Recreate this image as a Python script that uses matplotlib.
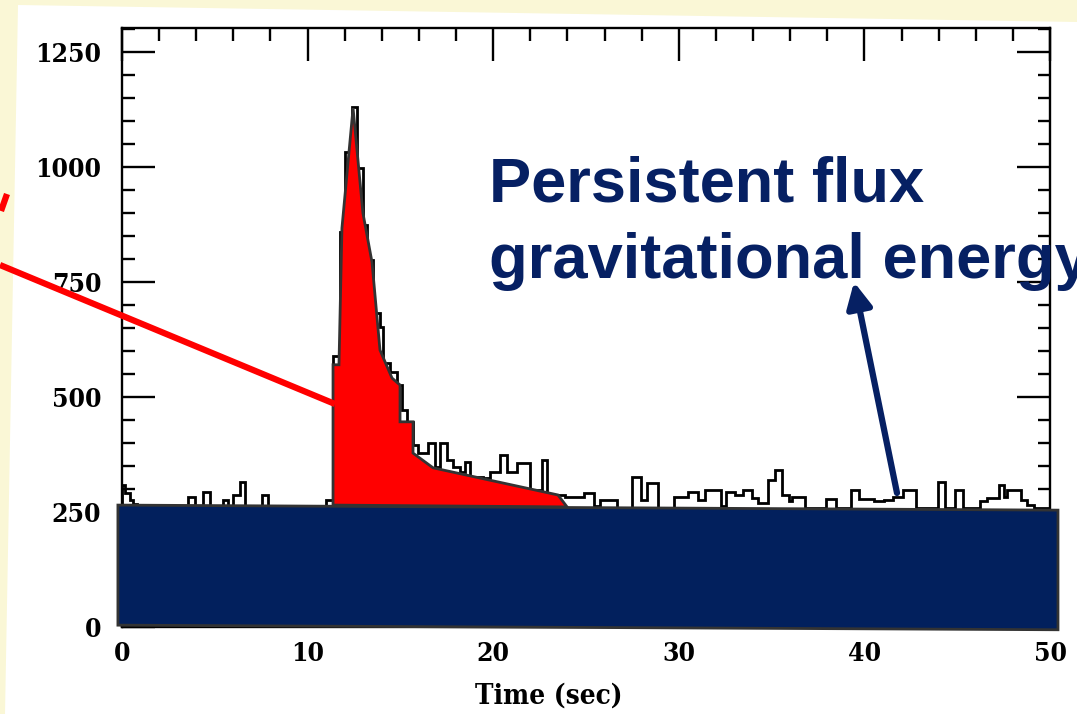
import numpy as np
import matplotlib
matplotlib.use("Agg")
import matplotlib.pyplot as plt
from matplotlib.patches import Polygon, FancyArrowPatch
from matplotlib.lines import Line2D

# ---------------- data ----------------
# light-curve histogram (step edges in seconds, counts per bin)
hist_edges = [0.00, 0.16, 0.43, 0.59, 0.81, 3.56, 3.93, 4.36, 4.74, 5.44, 5.71, 5.98,
              6.36, 6.63, 7.54, 7.87, 10.99, 11.37, 11.75, 12.02, 12.39, 12.66, 12.98,
              13.20, 13.52, 13.90, 14.06, 14.44, 14.82, 15.09, 15.36, 15.68, 15.95,
              16.49, 16.86, 17.13, 17.51, 17.83, 18.21, 18.48, 18.75, 19.45, 19.83,
              20.37, 20.74, 21.28, 21.98, 22.63, 22.90, 23.87, 24.89, 25.43, 25.75,
              26.67, 27.48, 27.96, 28.29, 28.88, 29.74, 30.50, 31.03, 31.41, 32.27,
              32.54, 33.03, 33.46, 33.94, 34.27, 34.81, 35.18, 35.56, 35.94, 36.10,
              36.80, 37.93, 38.47, 39.28, 39.71, 40.52, 41.06, 41.54, 42.08, 42.78,
              43.97, 44.34, 44.88, 45.31, 46.23, 46.61, 47.25, 47.52, 47.68, 48.44,
              48.76, 49.14, 50.00]
hist_counts = [309, 291, 276, 268, 258, 283, 258, 294, 258, 276, 262, 287, 316, 258,
               287, 258, 276, 588, 859, 1033, 1131, 997, 874, 798, 682, 653, 574, 555,
               526, 472, 446, 396, 378, 400, 348, 400, 363, 348, 337, 359, 326, 324,
               337, 374, 337, 356, 298, 363, 287, 283, 291, 262, 276, 258, 326, 276,
               313, 258, 283, 294, 276, 298, 262, 294, 287, 298, 280, 269, 319, 341,
               287, 273, 283, 258, 279, 258, 298, 279, 273, 276, 283, 298, 258, 316,
               258, 298, 258, 273, 280, 309, 283, 298, 276, 266, 258]

# burst (nuclear energy) outline
burst_t = [11.37, 11.37, 11.69, 11.85, 12.45, 12.98, 13.47, 13.90, 14.55, 14.98,
           14.98, 15.68, 15.68, 16.76, 23.49, 23.98]
burst_v = [265, 570, 570, 867, 1128, 900, 793, 602, 541, 526, 446, 446, 378, 346,
           287, 261]

# persistent flux band
persist_t = [-0.22, 50.43]
persist_top = [265, 254]
persist_bottom = [4, -6]

x_ticks = [0, 10, 20, 30, 40, 50]
y_ticks = [0, 250, 500, 750, 1000, 1250]
annot_text = ["Persistent flux", "gravitational energy"]

# ---------------- figure ----------------
W, H = 1077, 714
fig = plt.figure(figsize=(W / 100, H / 100), dpi=100)
fig.patch.set_facecolor("#FAF7D6")

def fpx(x, y):
    return (x / W, 1 - y / H)

sheet = Polygon([fpx(18, 5), fpx(1077, 22), fpx(1077, 714), fpx(5, 714)],
                closed=True, transform=fig.transFigure, facecolor="white",
                edgecolor="none", zorder=-5)
fig.patches.append(sheet)

ax = fig.add_axes([122 / W, 1 - 627 / H, 928 / W, 599 / H])
ax.set_zorder(1)
ax.set_facecolor("none")
ax.set_xlim(0, 50)
ax.set_ylim(0, 1302)

# histogram
ax.stairs(hist_counts, hist_edges, color="black", linewidth=2.0, zorder=2)

# burst fill
ax.fill(burst_t, burst_v, facecolor="#FF0000", edgecolor="#333333",
        linewidth=2.0, zorder=4)

# persistent band
ax.fill([persist_t[0], persist_t[1], persist_t[1], persist_t[0]],
        [persist_top[0], persist_top[1], persist_bottom[1], persist_bottom[0]],
        facecolor="#02205D", edgecolor="#333333", linewidth=2.0, zorder=5,
        clip_on=False)

# axes styling
for s in ax.spines.values():
    s.set_linewidth(1.7)
ax.set_xticks(x_ticks)
ax.set_yticks(y_ticks)
ax.set_xticks(np.arange(0, 51, 2), minor=True)
ax.set_yticks(np.arange(0, 1301, 50), minor=True)
ax.tick_params(which="both", direction="in", top=True, right=True, width=1.7)
ax.tick_params(which="major", length=24)
ax.tick_params(which="minor", length=9)
ax.tick_params(axis="y", pad=15)
ax.tick_params(axis="x", pad=10)
for lab in ax.get_xticklabels() + ax.get_yticklabels():
    lab.set_family("DejaVu Serif")
    lab.set_fontsize(19)
    lab.set_fontweight("bold")
    lab.set_fontstretch("condensed")

fig.text(549 / W, 1 - 696 / H, "Time (sec)", family="DejaVu Serif", fontsize=20,
         fontweight="bold", fontstretch="condensed", ha="center", va="center")

# annotations
navy = "#062063"
fig.text(489 / W, 1 - 202 / H, annot_text[0], family="Liberation Sans",
         weight="bold", fontsize=45.5, color=navy, va="baseline", ha="left",
         zorder=7)
fig.text(489 / W, 1 - 278 / H, annot_text[1], family="Liberation Sans",
         weight="bold", fontsize=45.5, color=navy, va="baseline", ha="left",
         zorder=7)

arrow = FancyArrowPatch(posA=fpx(897, 493), posB=fpx(854, 282),
                        transform=fig.transFigure, arrowstyle="-|>",
                        mutation_scale=38, color=navy, linewidth=4.5,
                        shrinkA=0, shrinkB=0, zorder=8)
fig.patches.append(arrow)

# red pointer line from the left
fig.add_artist(Line2D([0, 335 / W], [1 - 265 / H, 1 - 404 / H],
                      transform=fig.transFigure, color="#FF0000", linewidth=4.5,
                      solid_capstyle="butt", zorder=8))
fig.add_artist(Line2D([1 / W, 7 / W], [1 - 211 / H, 1 - 194 / H],
                      transform=fig.transFigure, color="#FF0000", linewidth=4.5,
                      solid_capstyle="butt", zorder=8))

fig.savefig("out.png", dpi=100, facecolor=fig.get_facecolor())
